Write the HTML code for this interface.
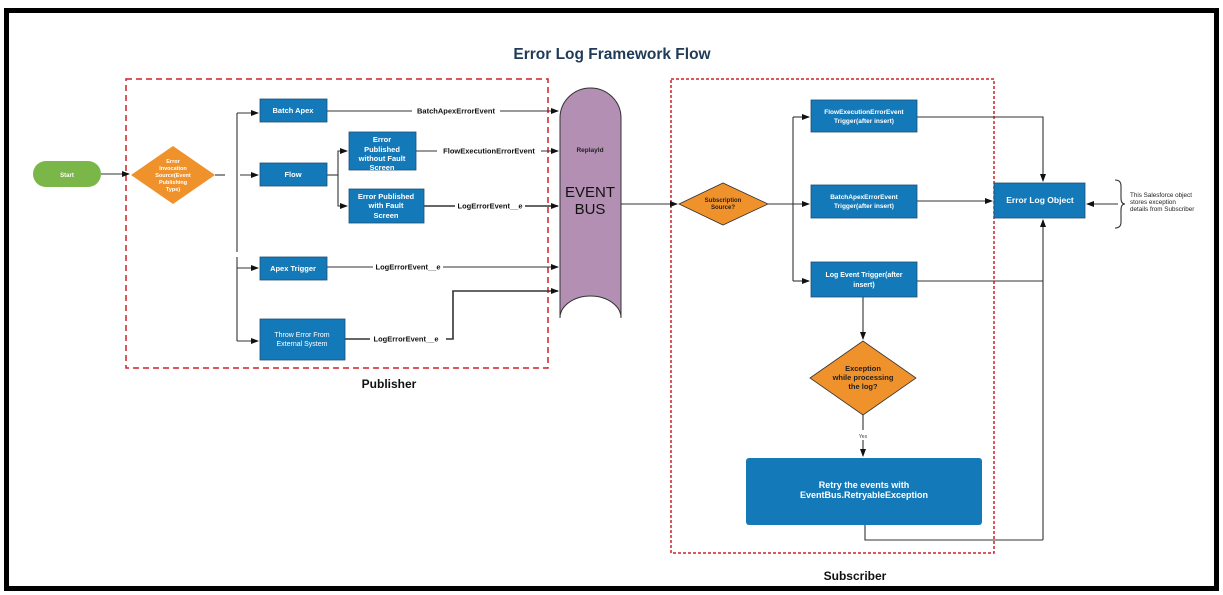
<!DOCTYPE html>
<html><head><meta charset="utf-8"><style>
html,body{margin:0;padding:0;background:#fff}
svg{display:block}
text{font-family:"Liberation Sans",sans-serif}
</style></head><body>
<svg width="1223" height="595" viewBox="0 0 1223 595" xmlns="http://www.w3.org/2000/svg">
<defs>
<marker id="a" markerWidth="8" markerHeight="8" refX="7" refY="4" orient="auto" markerUnits="userSpaceOnUse"><path d="M0,1 L8,4 L0,7 z" fill="#111"/></marker>
</defs>
<rect x="6.5" y="10.5" width="1210" height="578" fill="#fff" stroke="#000" stroke-width="5"/>
<text x="612" y="59" text-anchor="middle" font-size="15.5" font-weight="bold" fill="#1f3b57">Error Log Framework Flow</text>

<rect x="126" y="79" width="422" height="289" fill="none" stroke="#d0202a" stroke-width="1.5" stroke-dasharray="6,4"/>
<text x="389" y="388" text-anchor="middle" font-size="12" font-weight="bold" fill="#111">Publisher</text>
<rect x="671" y="79" width="323" height="474" fill="none" stroke="#d0202a" stroke-width="1.5" stroke-dasharray="3,2"/>
<text x="855" y="580" text-anchor="middle" font-size="12" font-weight="bold" fill="#111">Subscriber</text>

<g stroke="#333" stroke-width="1.1" fill="none">
<line x1="101" y1="174" x2="129" y2="174" marker-end="url(#a)"/>
<line x1="215" y1="175" x2="225" y2="175"/>
<line x1="237" y1="113" x2="237" y2="252"/>
<line x1="237" y1="257" x2="237" y2="341"/>
<line x1="237" y1="113" x2="258" y2="113" marker-end="url(#a)"/>
<line x1="240" y1="175" x2="258" y2="175" marker-end="url(#a)"/>
<line x1="237" y1="268" x2="258" y2="268" marker-end="url(#a)"/>
<line x1="237" y1="341" x2="258" y2="341" marker-end="url(#a)"/>
<line x1="327" y1="175" x2="338" y2="175"/>
<polyline points="338,175 338,151 347,151" marker-end="url(#a)"/>
<polyline points="338,175 338,206 347,206" marker-end="url(#a)"/>
<line x1="327" y1="111" x2="558" y2="111" marker-end="url(#a)"/>
<line x1="416" y1="151" x2="558" y2="151" marker-end="url(#a)"/>
<line x1="424" y1="206" x2="558" y2="206" marker-end="url(#a)" stroke-width="1.6"/>
<line x1="327" y1="267" x2="558" y2="267" marker-end="url(#a)"/>
<polyline points="345,339 453,339 453,291 558,291" marker-end="url(#a)" stroke-width="1.6"/>
<line x1="621" y1="204" x2="677" y2="204" marker-end="url(#a)"/>
<line x1="768" y1="204" x2="809" y2="204" marker-end="url(#a)"/>
<line x1="793" y1="117" x2="793" y2="281"/>
<line x1="793" y1="117" x2="809" y2="117" marker-end="url(#a)"/>
<line x1="793" y1="281" x2="809" y2="281" marker-end="url(#a)"/>
<polyline points="917,117 1043,117 1043,181" marker-end="url(#a)"/>
<line x1="917" y1="201" x2="992" y2="201" marker-end="url(#a)"/>
<polyline points="917,281 1043,281"/>
<line x1="1043" y1="540" x2="1043" y2="220" marker-end="url(#a)"/>
<polyline points="865,525 865,540 1043,540"/>
<line x1="863" y1="297" x2="863" y2="339" marker-end="url(#a)"/>
<line x1="863" y1="415" x2="863" y2="430"/>
<line x1="863" y1="440" x2="863" y2="456" marker-end="url(#a)"/>
<line x1="1118" y1="204" x2="1087" y2="204" marker-end="url(#a)"/>
<path d="M1115,180 q6,0 6,6 v12 q0,6 4,6 q-4,0 -4,6 v12 q0,6 -6,6"/>
</g>

<rect x="33" y="161" width="68" height="26" rx="13" fill="#7ab648"/>
<text x="67" y="177" text-anchor="middle" font-size="6" font-weight="bold" fill="#fff">Start</text>
<polygon points="131,175 173,146 215,175 173,204" fill="#f0922b"/>
<g font-size="5.5" font-weight="bold" fill="#fff" text-anchor="middle">
<text x="173" y="163">Error</text><text x="173" y="170">Invocation</text><text x="173" y="177">Source(Event</text><text x="173" y="184">Publishing</text><text x="173" y="191">Type)</text>
</g>

<g fill="#1479b8" stroke="#1d4e75" stroke-width="0.8">
<rect x="260" y="99" width="67" height="23"/>
<rect x="260" y="163" width="67" height="23"/>
<rect x="260" y="257" width="67" height="23"/>
<rect x="260" y="319" width="85" height="41"/>
<rect x="349" y="132" width="67" height="38"/>
<rect x="349" y="189" width="75" height="34"/>
<rect x="811" y="100" width="106" height="32"/>
<rect x="811" y="185" width="106" height="33"/>
<rect x="811" y="262" width="106" height="35"/>
<rect x="994" y="183" width="91" height="35"/>
</g>
<rect x="746" y="458" width="236" height="67" rx="3" fill="#1479b8"/>

<g font-size="7.5" font-weight="bold" fill="#fff" text-anchor="middle">
<text x="293" y="113">Batch Apex</text>
<text x="293" y="177">Flow</text>
<text x="293" y="271">Apex Trigger</text>
<text x="382" y="142">Error</text><text x="382" y="152">Published</text><text x="382" y="161">without Fault</text><text x="382" y="170">Screen</text>
<text x="386" y="199">Error Published</text><text x="386" y="208">with Fault</text><text x="386" y="218">Screen</text>
<text x="864" y="114" font-size="6.5">FlowExecutionErrorEvent</text><text x="864" y="123" font-size="6.5">Trigger(after insert)</text>
<text x="864" y="199" font-size="6.5">BatchApexErrorEvent</text><text x="864" y="208" font-size="6.5">Trigger(after insert)</text>
<text x="864" y="277" font-size="7">Log Event Trigger(after</text><text x="864" y="287" font-size="7">insert)</text>
<text x="1040" y="203" font-size="8.5">Error Log Object</text>
<text x="864" y="488" font-size="9">Retry the  events with</text><text x="864" y="498" font-size="9">EventBus.RetryableException</text>
</g>
<g font-size="7" fill="#fff" text-anchor="middle"><text x="302" y="337">Throw Error From</text><text x="302" y="346">External System</text></g>

<g font-size="7.5" fill="#111" text-anchor="middle" font-weight="bold">
<rect x="412" y="106" width="88" height="9" fill="#fff"/><text x="456" y="113.5">BatchApexErrorEvent</text>
<rect x="437" y="146" width="104" height="9" fill="#fff"/><text x="489" y="153.5">FlowExecutionErrorEvent</text>
<rect x="455" y="201" width="70" height="9" fill="#fff"/><text x="490" y="208.5">LogErrorEvent__e</text>
<rect x="373" y="262" width="70" height="9" fill="#fff"/><text x="408" y="269.5">LogErrorEvent__e</text>
<rect x="370" y="334" width="76" height="9" fill="#fff"/><text x="406" y="341.5">LogErrorEvent__e</text>
</g>

<path d="M560,318 V118 A30.5,30 0 0 1 621,118 V318 A30.5,22 0 0 0 560,318 Z" fill="#b38fb4" stroke="#333" stroke-width="1"/>
<text x="590" y="152" text-anchor="middle" font-size="6.5" font-weight="bold" fill="#222">ReplayId</text>
<text x="590" y="197" text-anchor="middle" font-size="15" fill="#111">EVENT</text>
<text x="590" y="214" text-anchor="middle" font-size="15" fill="#111">BUS</text>

<polygon points="679,204 723,183 768,204 723,225" fill="#f0922b" stroke="#333" stroke-width="0.8"/>
<text x="723" y="202" text-anchor="middle" font-size="6" font-weight="bold" fill="#222">Subscription</text>
<text x="723" y="209" text-anchor="middle" font-size="6" font-weight="bold" fill="#222">Source?</text>

<polygon points="810,378 863,341 916,378 863,415" fill="#f0922b" stroke="#333" stroke-width="0.8"/>
<g font-size="7.5" font-weight="bold" fill="#222" text-anchor="middle">
<text x="863" y="371">Exception</text><text x="863" y="380">while processing</text><text x="863" y="389">the log?</text>
</g>
<text x="863" y="438" text-anchor="middle" font-size="5" fill="#444">Yes</text>
<g font-size="6.3" fill="#222"><text x="1130" y="197">This Salesforce object</text><text x="1130" y="204">stores exception</text><text x="1130" y="211">details from Subscriber</text></g>
</svg>
</body></html>
